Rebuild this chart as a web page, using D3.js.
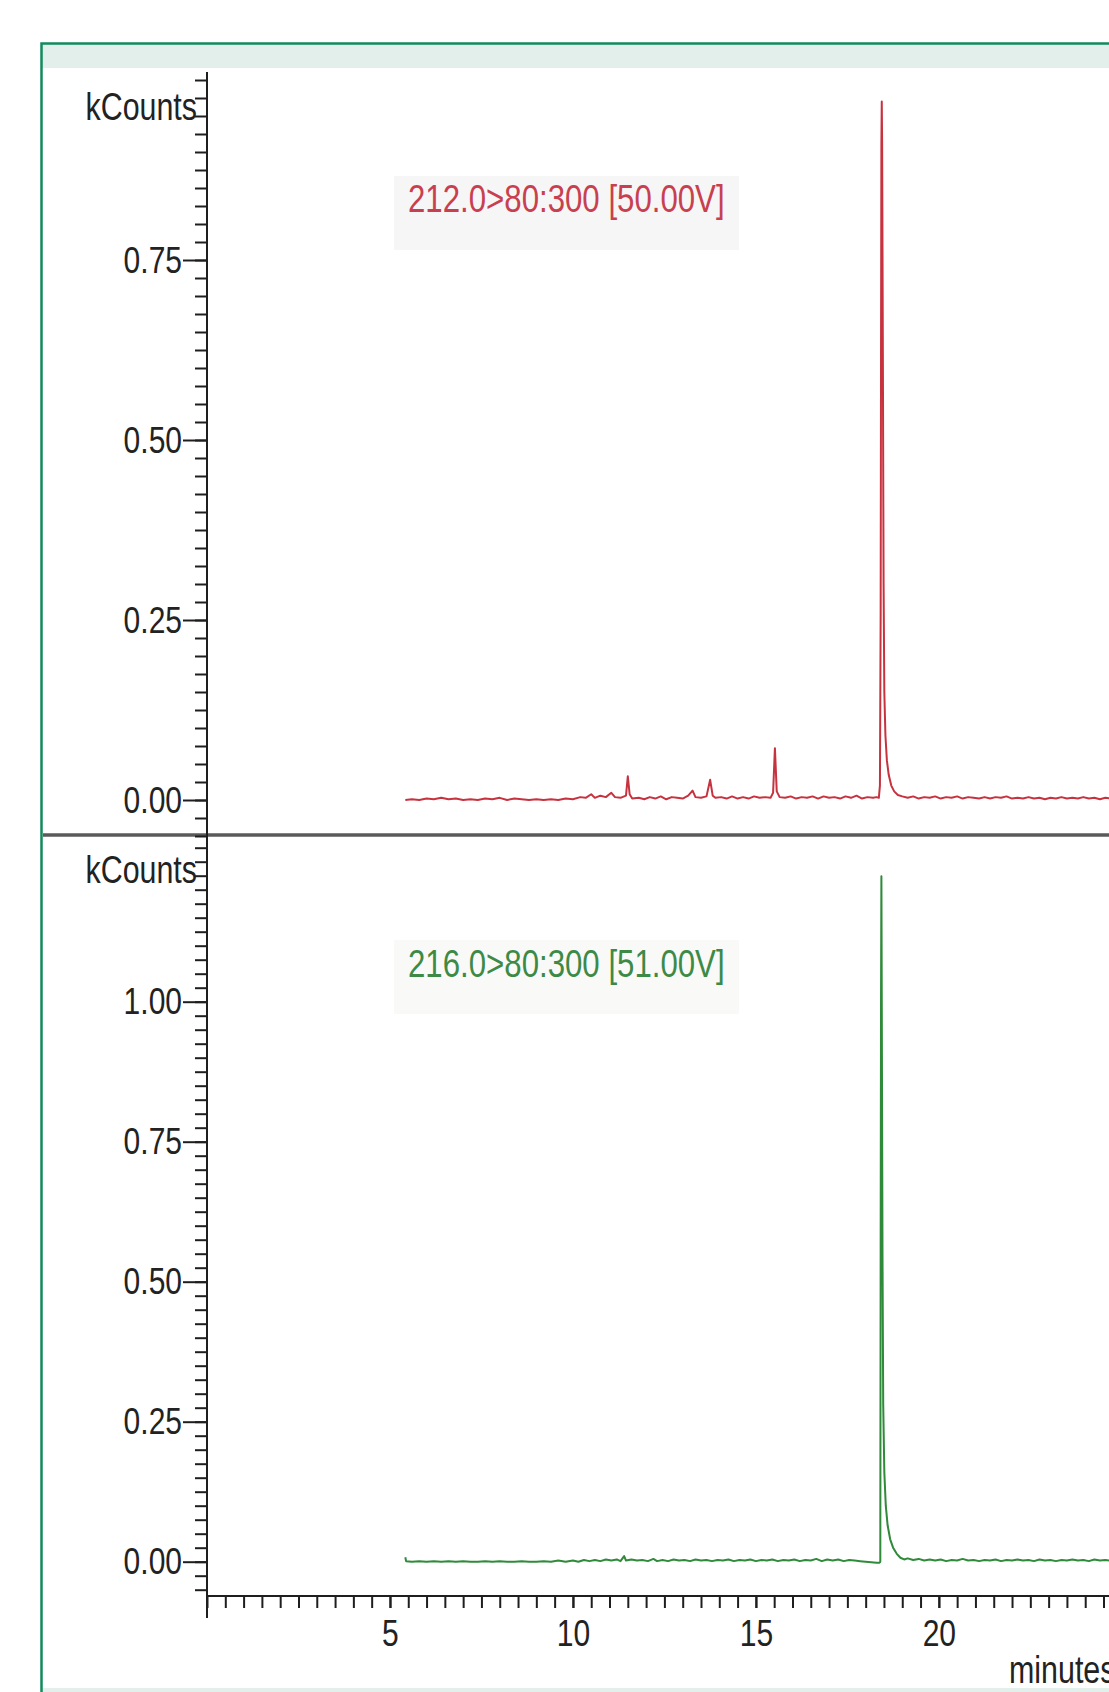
<!DOCTYPE html>
<html>
<head>
<meta charset="utf-8">
<script src="https://cdn.jsdelivr.net/npm/d3@7/dist/d3.min.js"></script>
<style>
  html, body { margin: 0; padding: 0; background: #ffffff; }
  svg { display: block; }
  text { font-family: "Liberation Sans", Arial, sans-serif; }
</style>
</head>
<body>
<svg id="chart" width="1109" height="1692"></svg>
<script>
// ---------------- data (kCounts vs minutes) ----------------
const xMajorTicks = [5, 10, 15, 20];
const yTopMajorTicks = [0.00, 0.25, 0.50, 0.75];
const yBottomMajorTicks = [0.00, 0.25, 0.50, 0.75, 1.00];
const unitLabel = "kCounts";
const xAxisLabel = "minutes";
const topTraceName = "212.0>80:300 [50.00V]";
const bottomTraceName = "216.0>80:300 [51.00V]";

const topTrace = [
  [5.42,0.000],[5.6,0.001],[5.8,0.000],[6.0,0.002],[6.2,0.001],[6.4,0.003],[6.6,0.001],[6.8,0.002],
  [7.0,0.000],[7.2,0.001],[7.4,0.000],[7.6,0.002],[7.8,0.001],[8.0,0.003],[8.2,0.000],[8.4,0.002],
  [8.6,0.001],[8.8,0.000],[9.0,0.001],[9.2,0.000],[9.4,0.001],[9.6,0.000],[9.8,0.002],[10.0,0.001],
  [10.2,0.004],[10.35,0.003],[10.5,0.008],[10.6,0.003],[10.75,0.006],[10.9,0.004],[11.05,0.010],
  [11.15,0.004],[11.3,0.003],[11.45,0.006],[11.5,0.033],[11.55,0.008],[11.62,0.002],[11.8,0.003],
  [11.95,0.001],[12.1,0.004],[12.25,0.002],[12.4,0.005],[12.55,0.001],[12.7,0.004],[12.85,0.003],
  [13.0,0.002],[13.15,0.006],[13.27,0.013],[13.35,0.004],[13.5,0.003],[13.65,0.005],[13.75,0.028],
  [13.82,0.006],[13.9,0.003],[14.05,0.004],[14.2,0.002],[14.35,0.005],[14.5,0.002],[14.65,0.004],
  [14.8,0.002],[14.95,0.005],[15.1,0.003],[15.25,0.004],[15.4,0.003],[15.47,0.010],[15.52,0.072],
  [15.57,0.012],[15.65,0.004],[15.8,0.003],[15.95,0.005],[16.1,0.002],[16.25,0.004],[16.4,0.003],
  [16.55,0.005],[16.7,0.002],[16.85,0.005],[17.0,0.003],[17.15,0.004],[17.3,0.002],[17.45,0.005],
  [17.6,0.003],[17.75,0.006],[17.9,0.002],[18.05,0.004],[18.2,0.003],[18.3,0.004],[18.36,0.003],
  [18.39,0.02],[18.41,0.26],[18.42,0.62],[18.43,0.91],[18.44,0.97],[18.45,0.91],[18.47,0.62],
  [18.49,0.30],[18.51,0.15],[18.54,0.09],[18.58,0.055],[18.63,0.035],[18.7,0.02],[18.78,0.012],
  [18.88,0.007],[19.0,0.005],[19.15,0.003],[19.3,0.005],[19.45,0.002],[19.6,0.004],[19.75,0.003],
  [19.9,0.005],[20.05,0.002],[20.2,0.004],[20.35,0.003],[20.5,0.005],[20.65,0.002],[20.8,0.004],
  [20.95,0.003],[21.1,0.002],[21.25,0.004],[21.4,0.002],[21.55,0.004],[21.7,0.003],[21.85,0.005],
  [22.0,0.002],[22.15,0.003],[22.3,0.002],[22.45,0.004],[22.6,0.002],[22.75,0.003],[22.9,0.001],
  [23.05,0.003],[23.2,0.002],[23.35,0.004],[23.5,0.002],[23.65,0.003],[23.8,0.002],[23.95,0.004],
  [24.1,0.002],[24.25,0.003],[24.4,0.001],[24.55,0.003],[24.7,0.002],[24.85,0.003]
];

const bottomTrace = [
  [5.42,0.008],[5.44,0.001],[5.6,0.000],[5.8,0.001],[6.0,0.000],[6.2,0.001],[6.4,0.000],[6.6,0.001],
  [6.8,0.000],[7.0,0.001],[7.2,0.000],[7.4,0.000],[7.6,0.001],[7.8,0.000],[8.0,0.001],[8.2,0.000],
  [8.4,0.000],[8.6,0.001],[8.8,0.000],[9.0,0.000],[9.2,0.001],[9.4,0.000],[9.6,0.002],[9.8,0.000],
  [10.0,0.002],[10.15,0.000],[10.3,0.003],[10.45,0.001],[10.6,0.003],[10.75,0.001],[10.9,0.004],
  [11.05,0.002],[11.2,0.004],[11.3,0.001],[11.4,0.010],[11.45,0.002],[11.6,0.004],[11.75,0.002],
  [11.9,0.003],[12.05,0.001],[12.2,0.005],[12.3,0.001],[12.45,0.003],[12.6,0.001],[12.75,0.004],
  [12.9,0.002],[13.05,0.003],[13.2,0.001],[13.35,0.004],[13.5,0.002],[13.65,0.003],[13.8,0.001],
  [13.95,0.003],[14.1,0.002],[14.25,0.004],[14.4,0.001],[14.55,0.003],[14.7,0.002],[14.85,0.004],
  [15.0,0.001],[15.15,0.003],[15.3,0.002],[15.45,0.004],[15.6,0.001],[15.75,0.003],[15.9,0.002],
  [16.05,0.004],[16.2,0.001],[16.35,0.003],[16.5,0.002],[16.65,0.005],[16.8,0.001],[16.95,0.004],
  [17.1,0.002],[17.25,0.004],[17.4,0.001],[17.55,0.003],[17.7,0.002],[17.85,0.001],[18.0,0.000],
  [18.15,-0.001],[18.3,-0.002],[18.38,-0.002],[18.40,0.000],[18.41,0.56],[18.42,1.00],[18.43,1.224],
  [18.44,1.00],[18.46,0.55],[18.48,0.28],[18.51,0.16],[18.55,0.10],[18.6,0.065],[18.67,0.04],
  [18.75,0.025],[18.85,0.014],[18.95,0.007],[19.05,0.004],[19.15,0.006],[19.3,0.003],[19.45,0.005],
  [19.6,0.002],[19.75,0.004],[19.9,0.002],[20.05,0.004],[20.2,0.001],[20.35,0.003],[20.5,0.002],
  [20.65,0.005],[20.8,0.002],[20.95,0.003],[21.1,0.001],[21.25,0.003],[21.4,0.002],[21.55,0.004],
  [21.7,0.001],[21.85,0.003],[22.0,0.002],[22.15,0.004],[22.3,0.002],[22.45,0.003],[22.6,0.001],
  [22.75,0.004],[22.9,0.002],[23.05,0.003],[23.2,0.001],[23.35,0.003],[23.5,0.002],[23.65,0.004],
  [23.8,0.002],[23.95,0.003],[24.1,0.001],[24.25,0.004],[24.4,0.002],[24.55,0.003],[24.7,0.002],
  [24.85,0.003]
];

// ---------------- layout ----------------
const W = 1109, H = 1692;
const axisX = 207;
const NARROW = 0.80;   // condensed face emulation
const svg = d3.select("#chart");

// frame
svg.append("rect").attr("x", 42).attr("y", 44).attr("width", W).attr("height", 24).attr("fill", "#e3efea");
svg.append("rect").attr("x", 42).attr("y", 1688).attr("width", W).attr("height", 6).attr("fill", "#e3efea");
svg.append("rect").attr("x", 41.5).attr("y", 43.5).attr("width", W + 10).attr("height", H + 10)
  .attr("fill", "none").attr("stroke", "#138a5c").attr("stroke-width", 2.5);

// scales
const x = d3.scaleLinear().domain([0, 24.65]).range([axisX, W]);
const yTop = d3.scaleLinear().domain([0, 0.75]).range([800, 260]);
const yBot = d3.scaleLinear().domain([0, 1]).range([1561.7, 1001.7]);

// label backgrounds
svg.append("rect").attr("x", 394).attr("y", 176).attr("width", 345).attr("height", 74).attr("fill", "#f7f6f6");
svg.append("rect").attr("x", 394).attr("y", 940).attr("width", 345).attr("height", 74).attr("fill", "#f9f9f8");

// divider
svg.append("line").attr("x1", 43).attr("x2", W).attr("y1", 835).attr("y2", 835)
  .attr("stroke", "#5a5a5a").attr("stroke-width", 3.5);

// traces (clipped to plot region)
const clip = svg.append("defs").append("clipPath").attr("id", "plotclip");
clip.append("rect").attr("x", axisX + 1).attr("y", 60).attr("width", W).attr("height", 1540);

const lineTop = d3.line().x(d => x(d[0])).y(d => yTop(d[1]));
const lineBot = d3.line().x(d => x(d[0])).y(d => yBot(d[1]));

svg.append("path").datum(topTrace).attr("d", lineTop).attr("clip-path", "url(#plotclip)")
  .attr("fill", "none").attr("stroke", "#c7323f").attr("stroke-width", 2).attr("stroke-linejoin", "round");
svg.append("path").datum(bottomTrace).attr("d", lineBot).attr("clip-path", "url(#plotclip)")
  .attr("fill", "none").attr("stroke", "#2f8a3a").attr("stroke-width", 2).attr("stroke-linejoin", "round");

// trace names
svg.append("text").attr("x", 408).attr("y", 212).attr("font-size", 39).attr("fill", "#c8404f").text(topTraceName);
svg.append("text").attr("x", 408).attr("y", 977).attr("font-size", 39).attr("fill", "#3d8a47").text(bottomTraceName);

// y axis line
svg.append("line").attr("x1", axisX).attr("x2", axisX).attr("y1", 72).attr("y2", 1618)
  .attr("stroke", "#1e1e1e").attr("stroke-width", 2);

// y minor ticks
function minorRange(a, b, step) { const r = []; for (let v = a; v <= b + 1e-9; v += step) r.push(+v.toFixed(4)); return r; }
const topMinor = minorRange(-0.05, 1.0, 0.025);
const botMinor = minorRange(-0.05, 1.275, 0.025);

const gTop = svg.append("g").attr("transform", `translate(${axisX},0)`);
gTop.call(d3.axisLeft(yTop).tickValues(topMinor).tickSize(12).tickFormat(""));
gTop.append("g").call(d3.axisLeft(yTop).tickValues(yTopMajorTicks).tickSize(24).tickPadding(1).tickFormat(d3.format(".2f")));
const gBot = svg.append("g").attr("transform", `translate(${axisX},0)`);
gBot.call(d3.axisLeft(yBot).tickValues(botMinor).tickSize(12).tickFormat(""));
gBot.append("g").call(d3.axisLeft(yBot).tickValues(yBottomMajorTicks).tickSize(24).tickPadding(1).tickFormat(d3.format(".2f")));

// x axis
const xMinor = minorRange(0, 24.5, 0.5);
const gX = svg.append("g").attr("transform", "translate(0,1596)");
gX.call(d3.axisBottom(x).tickValues(xMinor).tickSize(12).tickFormat(""));
gX.append("g").call(d3.axisBottom(x).tickValues(xMajorTicks).tickSize(12).tickPadding(11).tickFormat(d3.format("d")));
svg.append("line").attr("x1", axisX).attr("x2", W).attr("y1", 1596).attr("y2", 1596)
  .attr("stroke", "#1e1e1e").attr("stroke-width", 2);

svg.selectAll(".domain").remove();
svg.selectAll(".tick line").attr("stroke", "#1e1e1e").attr("stroke-width", 2);
svg.selectAll(".tick text").attr("font-size", 37.5).attr("fill", "#222")
  .attr("font-family", "'Liberation Sans', Arial, sans-serif");

// unit labels
svg.append("text").attr("x", 197).attr("y", 120).attr("text-anchor", "end").attr("font-size", 38).attr("fill", "#222").text(unitLabel);
svg.append("text").attr("x", 197).attr("y", 883).attr("text-anchor", "end").attr("font-size", 38).attr("fill", "#222").text(unitLabel);
svg.append("text").attr("x", 1009).attr("y", 1683).attr("font-size", 38).attr("fill", "#222").text(xAxisLabel);

// condense every text to emulate the narrow face of the original
svg.selectAll("text").each(function () {
  const w = this.getComputedTextLength();
  if (w > 0) {
    d3.select(this).attr("textLength", (w * NARROW).toFixed(1)).attr("lengthAdjust", "spacingAndGlyphs");
  }
});
</script>
</body>
</html>
